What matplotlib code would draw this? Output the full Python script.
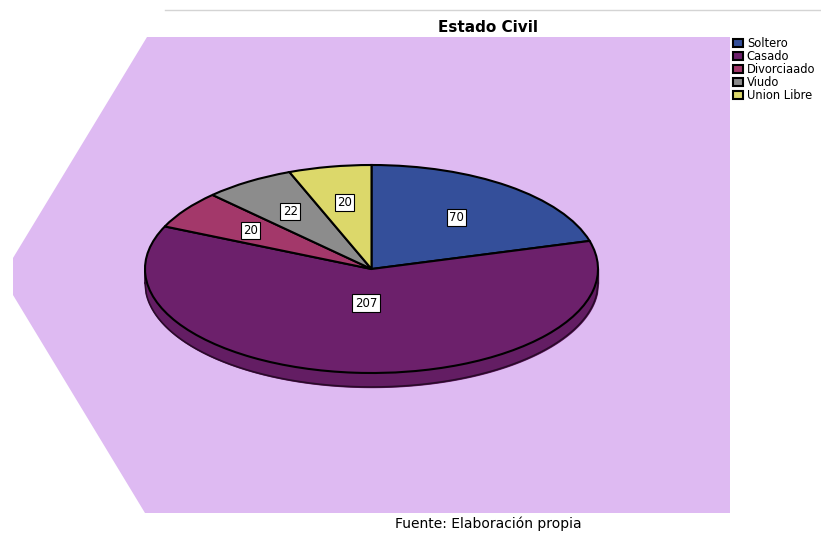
import numpy as np
import matplotlib.pyplot as plt
from matplotlib.patches import Polygon, Patch

plt.rcParams['font.family'] = ['DejaVu Sans']

categorias = ['Soltero', 'Casado', 'Divorciado', 'Viudo', 'Union Libre']
etiquetas_leyenda = ['Soltero', 'Casado', 'Divorciaado', 'Viudo', 'Union Libre']
valores = [70, 207, 20, 22, 20]
colores = ['#344f9a', '#6c206b', '#a3386a', '#8c8c8c', '#dcd86a']
dist_etiquetas = [0.62, 0.33, 0.65, 0.66, 0.65]

W, H = 821, 533
fig = plt.figure(figsize=(W / 100, H / 100), dpi=100)

# fondo en coordenadas de pixel
bg = fig.add_axes([0, 0, 1, 1])
bg.set_xlim(0, W)
bg.set_ylim(H, 0)
bg.axis('off')
bg.add_patch(Polygon([(147, 37), (730, 37), (730, 513), (145, 513), (13, 295), (13, 258)],
                     closed=True, facecolor='#debaf2', edgecolor='none'))
bg.plot([165, W], [10, 10], color='#d4d4d4', lw=1)
bg.text(488, 28, 'Estado Civil', ha='center', va='center', fontsize=11, fontweight='bold')
bg.text(488, 524, 'Fuente: Elaboración propia', ha='center', va='center', fontsize=10)

# pie (elipse): centro (371.5, 269), semiejes 226.5 x 104 px
cx, cy, a, b = 371.5, 269, 226.5, 104
x0, x1, y0, y1 = -1.1, 1.1, -1.3, 1.1
ax = fig.add_axes([(cx + a * x0) / W, (H - (cy - b * y0)) / H,
                   a * (x1 - x0) / W, b * (y1 - y0) / H])
d = 14 / b

# costado 3D
xs = np.linspace(-1, 1, 400)
ax.fill_between(xs, -np.sqrt(1 - xs ** 2) - d, 0, color='#631d63', zorder=0)
ax.plot(xs, -np.sqrt(1 - xs ** 2) - d, color='#2a0a2a', lw=1.2, zorder=1)
ax.plot([-1, -1], [0, -d], color='#2a0a2a', lw=1.2, zorder=1)
ax.plot([1, 1], [0, -d], color='#2a0a2a', lw=1.2, zorder=1)

wedges, _ = ax.pie(valores, colors=colores, startangle=90, counterclock=False,
                   wedgeprops=dict(edgecolor='black', linewidth=1.5))
for w in wedges:
    w.set_zorder(2)
ax.set_aspect('auto')
ax.set_xlim(x0, x1)
ax.set_ylim(y0, y1)
ax.axis('off')

for w, v, r in zip(wedges, valores, dist_etiquetas):
    ang = np.deg2rad((w.theta1 + w.theta2) / 2)
    ax.text(r * np.cos(ang), r * np.sin(ang), str(v), ha='center', va='center',
            fontsize=8.5, zorder=5,
            bbox=dict(boxstyle='square,pad=0.2', facecolor='white', edgecolor='black', lw=0.8))

handles = [Patch(facecolor=c, edgecolor='black', lw=1.5) for c in colores]
fig.legend(handles, etiquetas_leyenda, loc='upper left', bbox_to_anchor=(733 / W, 1 - 37 / H),
           frameon=False, fontsize=8.3, handlelength=0.9, handleheight=0.7,
           handletextpad=0.3, labelspacing=0.0, borderpad=0, borderaxespad=0)

fig.savefig('out.png', dpi=100)
